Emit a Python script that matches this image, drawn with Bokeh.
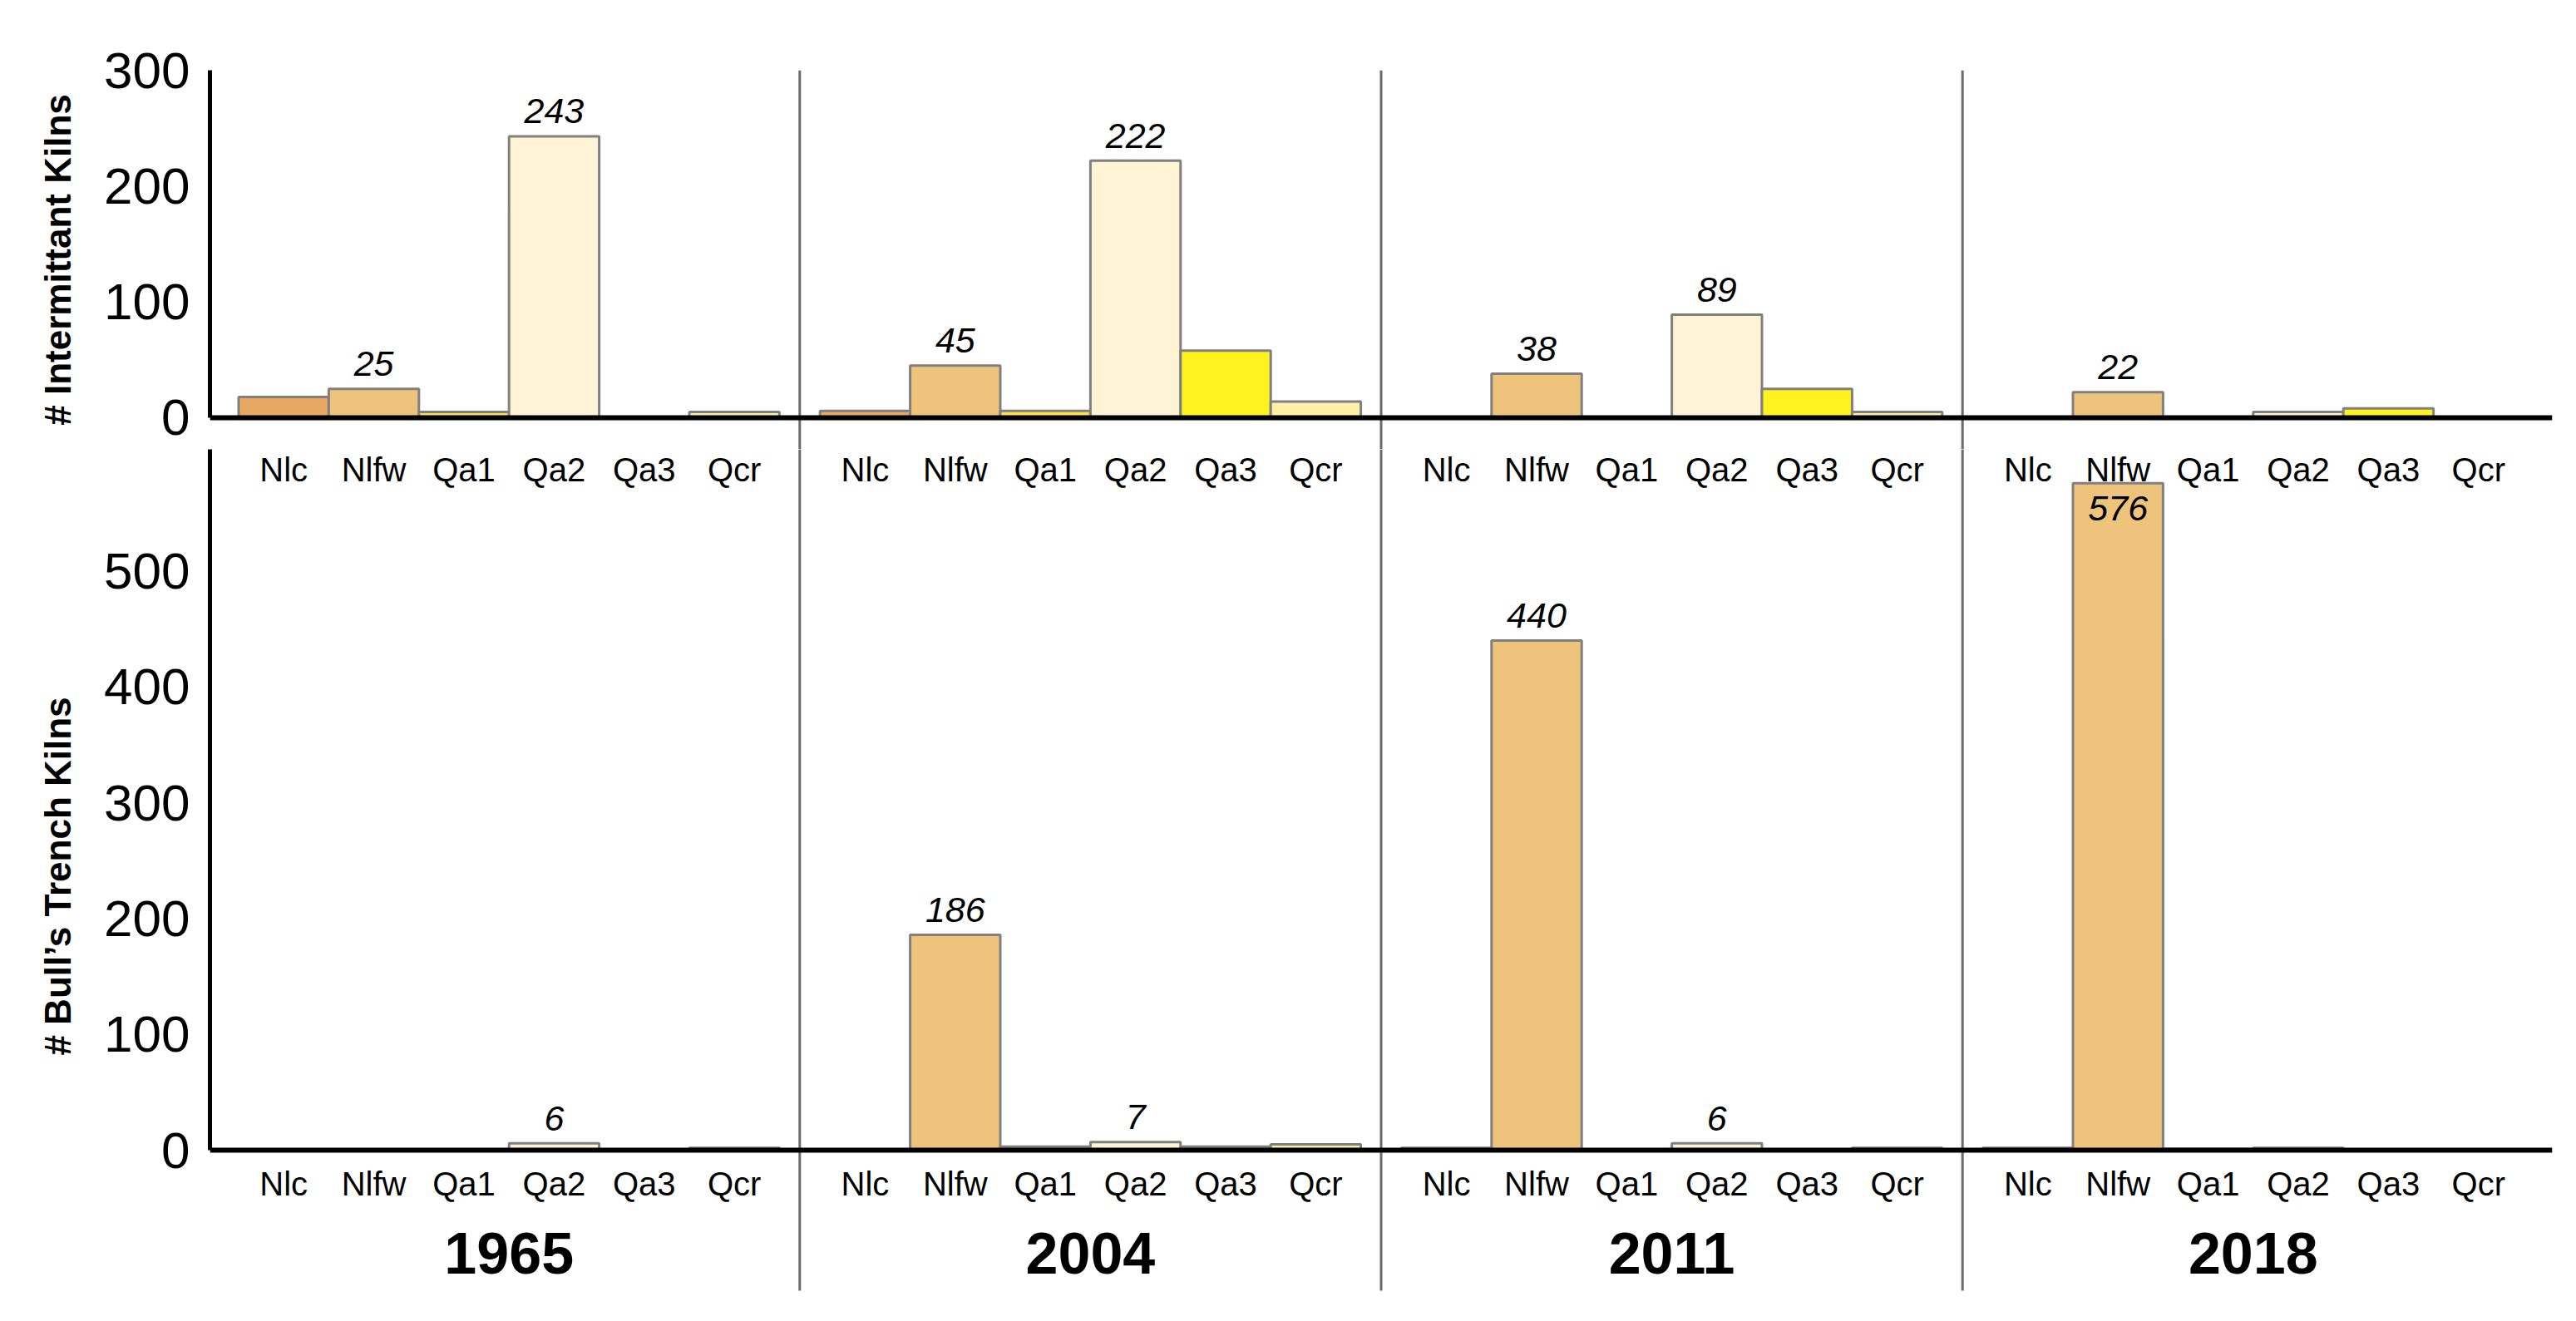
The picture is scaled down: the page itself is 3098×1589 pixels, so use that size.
from bokeh.plotting import figure
from bokeh.models import FactorRange, Range1d, FixedTicker, ColumnDataSource, Span
from bokeh.layouts import column
from bokeh.embed import file_html
from bokeh.resources import INLINE
from bokeh.core.properties import value

FONT = "Liberation Sans"

# ---------------- data ----------------
years = ["1965", "2004", "2011", "2018"]
units = ["Nlc", "Nlfw", "Qa1", "Qa2", "Qa3", "Qcr"]
unit_colors = ["#E8A862", "#EEC37B", "#FFE04E", "#FFF3D6", "#FFF21E", "#FFF0A8"]

intermittent_1965 = [18, 25, 5, 243, 0, 5]
intermittent_2004 = [6, 45, 6, 222, 58, 14]
intermittent_2011 = [0, 38, 0, 89, 25, 5]
intermittent_2018 = [0, 22, 0, 5, 8, 0]

bulls_trench_1965 = [0, 0, 0, 6, 0, 2]
bulls_trench_2004 = [0, 186, 3, 7, 3, 5]
bulls_trench_2011 = [2, 440, 0, 6, 0, 2]
bulls_trench_2018 = [2, 576, 1, 2, 0, 0]

intermittent_labelled = {"1965": ["Nlfw", "Qa2"], "2004": ["Nlfw", "Qa2"],
                         "2011": ["Nlfw", "Qa2"], "2018": ["Nlfw"]}
bulls_trench_labelled = {"1965": ["Qa2"], "2004": ["Nlfw", "Qa2"],
                         "2011": ["Nlfw", "Qa2"], "2018": ["Nlfw"]}

intermittent_ticks = [0, 100, 200, 300]
bulls_trench_ticks = [0, 100, 200, 300, 400, 500]

intermittent = dict(zip(years, [intermittent_1965, intermittent_2004, intermittent_2011, intermittent_2018]))
bulls_trench = dict(zip(years, [bulls_trench_1965, bulls_trench_2004, bulls_trench_2011, bulls_trench_2018]))

# ---------------- layout (window pixels) ----------------
PX = 1.393                # pixels per kiln, both rows
FRAME_W = 2817
FRAME_TOP = 92
TOP_BASE = 510
SPLIT = 548
BOTTOM_BASE = 1391
FRAME_BOTTOM = 1575
SEP_BOTTOM = 1560
GROUP_PAD = 0.45
SEP_COLOR = "#6b6b6b"

top_y = (-(SPLIT - TOP_BASE) / PX, 300)
bot_y = (-(FRAME_BOTTOM - BOTTOM_BASE) / PX, (BOTTOM_BASE - SPLIT) / PX)

factors = [(y, u) for y in years for u in units]
x_range = FactorRange(*factors, factor_padding=0.0, group_padding=GROUP_PAD,
                      range_padding=0.0251, range_padding_units="percent")
sep_x = [(y, units[0], -0.5 - GROUP_PAD / 2) for y in years[1:]]


def make_panel(series, labelled, yr, frame_h, ylabel, ticks, axis_bounds, sep_y0, min_top):
    p = figure(x_range=x_range, y_range=Range1d(*yr),
               frame_width=FRAME_W, frame_height=frame_h, x_axis_location=None,
               min_border_left=252, min_border_right=11, min_border_top=min_top,
               min_border_bottom=0, output_backend="svg", toolbar_location=None)
    p.title.visible = False
    p.outline_line_color = None
    p.xgrid.grid_line_color = None
    p.ygrid.grid_line_color = None
    p.background_fill_color = "white"
    p.border_fill_color = "white"

    # group separators
    p.segment(x0=sep_x, y0=[sep_y0] * len(sep_x), x1=sep_x, y1=[yr[1]] * len(sep_x),
              line_color=SEP_COLOR, line_width=3)

    xs, tops, cols = [], [], []
    lx, ly, lt, loff = [], [], [], []
    for y in years:
        for u, v, c in zip(units, series[y], unit_colors):
            xs.append((y, u)); tops.append(v); cols.append(c)
            if u in labelled[y]:
                lx.append((y, u)); ly.append(v); lt.append(str(v))
                loff.append(30 if v > 0.9 * yr[1] else -30)
    src = ColumnDataSource(dict(x=xs, top=tops, color=cols))
    p.vbar(x="x", top="top", bottom=0, width=1.0, fill_color="color",
           line_color="#808080", line_width=3, source=src)

    lsrc = ColumnDataSource(dict(x=lx, y=ly, text=lt, off=loff))
    p.text(x="x", y="y", text="text", y_offset="off", source=lsrc,
           text_font=value(FONT), text_font_style="italic", text_font_size="43px",
           text_align="center", text_baseline="middle", text_color="black")

    # baseline
    p.add_layout(Span(location=0, dimension="width", line_color="black", line_width=6))

    ya = p.yaxis[0]
    ya.ticker = FixedTicker(ticks=ticks)
    ya.bounds = axis_bounds
    ya.axis_line_width = 5
    ya.axis_line_color = "black"
    ya.major_tick_line_color = None
    ya.minor_tick_line_color = None
    ya.major_label_text_font = FONT
    ya.major_label_text_font_size = "62px"
    ya.major_label_text_color = "black"
    ya.major_label_standoff = 18
    ya.axis_label = ylabel
    ya.axis_label_text_font = FONT
    ya.axis_label_text_font_size = "44px"
    ya.axis_label_text_font_style = "bold"
    ya.axis_label_text_color = "black"
    ya.axis_label_standoff = 28
    return p


def unit_labels(p, y, y_off):
    src = ColumnDataSource(dict(x=factors, y=[y] * len(factors), text=[f[1] for f in factors]))
    p.text(x="x", y="y", text="text", source=src, y_offset=y_off,
           text_font=value(FONT), text_font_size="40px", text_color="black",
           text_align="center", text_baseline="middle")


p_top = make_panel(intermittent, intermittent_labelled, top_y, SPLIT - FRAME_TOP,
                   "# Intermittant Kilns", intermittent_ticks, (0, 300), top_y[0], FRAME_TOP - 8)
p_bottom = make_panel(bulls_trench, bulls_trench_labelled, bot_y, FRAME_BOTTOM - SPLIT,
                      "# Bull\u2019s Trench Kilns", bulls_trench_ticks, (0, bot_y[1]),
                      -(SEP_BOTTOM - BOTTOM_BASE) / PX, 0)

# unit labels under the upper row's baseline and under the lower row's baseline
unit_labels(p_bottom, bot_y[1], 572 - SPLIT)
unit_labels(p_bottom, 0, 1431 - BOTTOM_BASE)

# year labels, centred on each group
year_src = ColumnDataSource(dict(x=[(y, units[2], 0.5) for y in years], y=[0] * len(years), text=years))
p_bottom.text(x="x", y="y", text="text", source=year_src, y_offset=1515 - BOTTOM_BASE,
              text_font=value(FONT), text_font_size="70px", text_font_style="bold",
              text_color="black", text_align="center", text_baseline="middle")

layout = column(p_top, p_bottom)
open("out.html", "w").write(file_html(layout, INLINE))
